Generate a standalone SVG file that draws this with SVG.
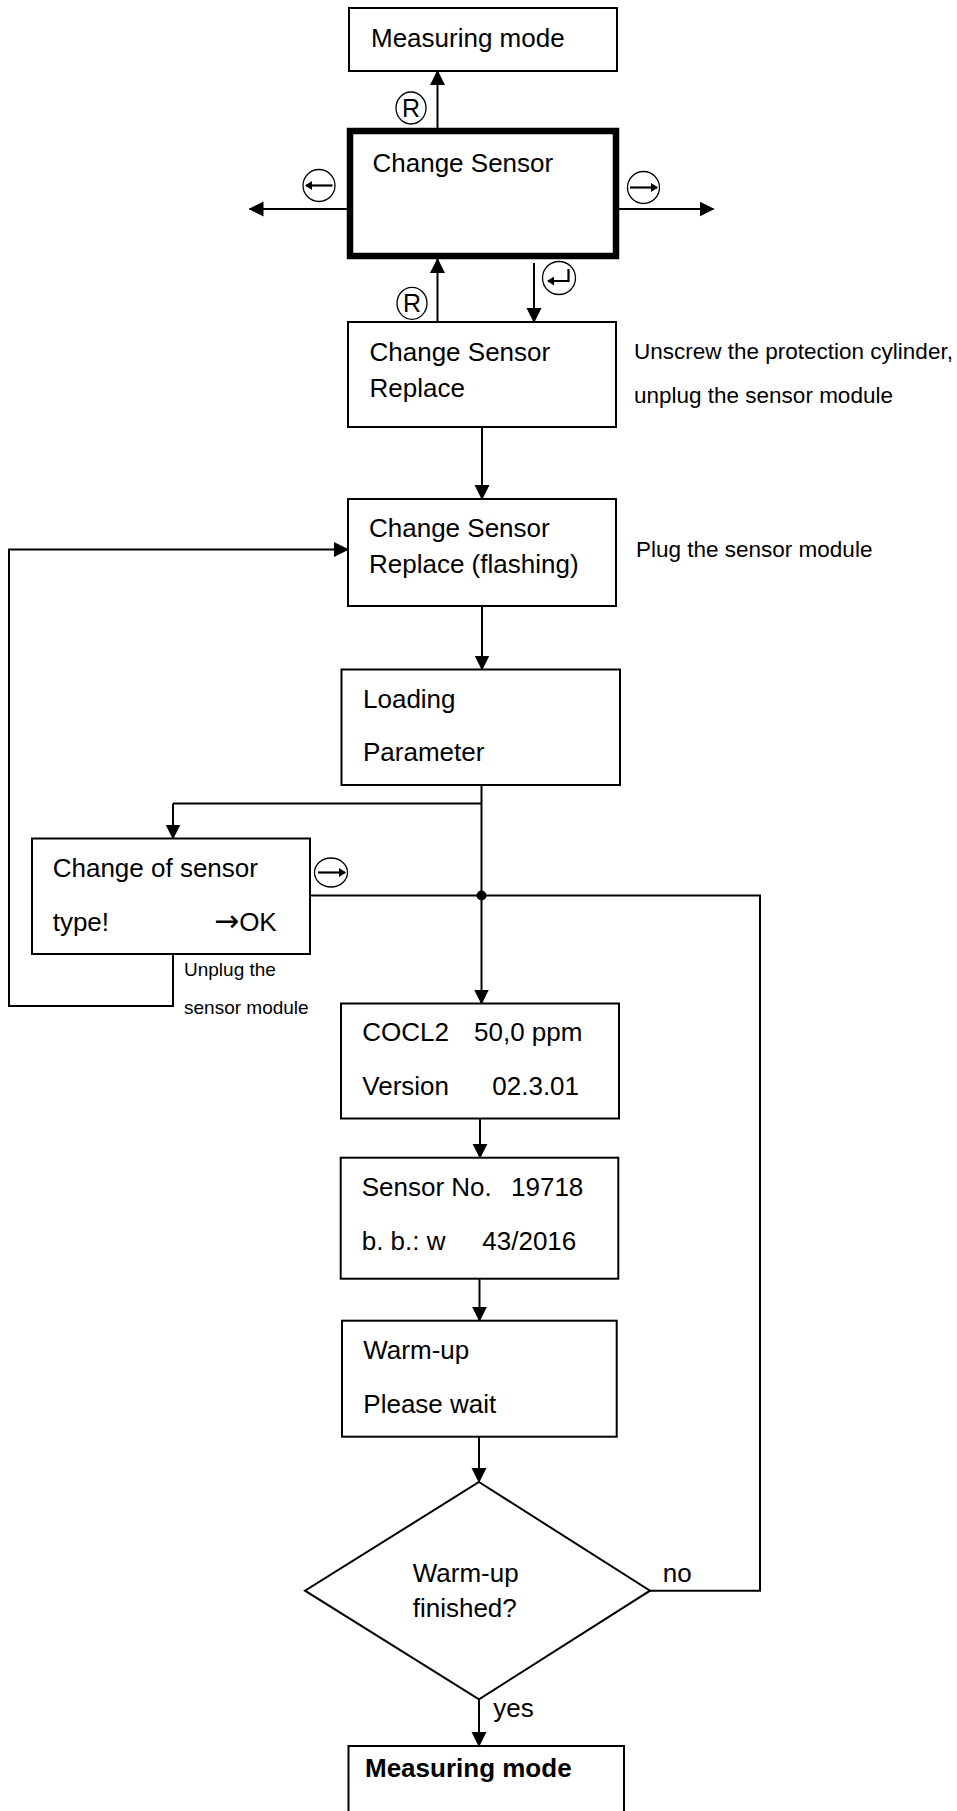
<svg xmlns="http://www.w3.org/2000/svg" width="957" height="1811" viewBox="0 0 957 1811">
<defs>
<marker id="arr" markerUnits="userSpaceOnUse" viewBox="0 0 15 16" markerWidth="15" markerHeight="16" refX="14" refY="8" orient="auto">
<path d="M0,0.5 L15,8 L0,15.5 z" fill="#000"/>
</marker>
<marker id="sarr" markerUnits="userSpaceOnUse" viewBox="0 0 7 9" markerWidth="7" markerHeight="9" refX="6" refY="4.5" orient="auto">
<path d="M0,0 L7,4.5 L0,9 z" fill="#000"/>
</marker>
<style>
.box{fill:#fff;stroke:#000;stroke-width:2}
.thick{fill:#fff;stroke:#000;stroke-width:6.5}
.ln{fill:none;stroke:#000;stroke-width:2}
.ar{fill:none;stroke:#000;stroke-width:2;marker-end:url(#arr)}
.ic{fill:#fff;stroke:#000;stroke-width:1.3}
.ia{fill:none;stroke:#000;stroke-width:2.2;marker-end:url(#sarr)}
.t{font-family:"Liberation Sans",Arial,sans-serif;font-size:26px;fill:#000}
.tb{font-family:"Liberation Sans",Arial,sans-serif;font-size:26px;font-weight:bold;fill:#000}
.s{font-family:"Liberation Sans",Arial,sans-serif;font-size:22.5px;fill:#000}
.xs{font-family:"Liberation Sans",Arial,sans-serif;font-size:19px;fill:#000}
.r{font-family:"Liberation Sans",Arial,sans-serif;font-size:25px;fill:#000;text-anchor:middle}
.arrow{font-family:"DejaVu Sans",sans-serif;font-size:30px}
</style>
</defs>
<rect width="957" height="1811" fill="#fff"/>

<g id="connectors">
<line class="ar" x1="437.5" y1="128" x2="437.5" y2="71"/>
<line class="ar" x1="347" y1="209" x2="249.5" y2="209"/>
<line class="ar" x1="619" y1="209" x2="713.5" y2="209"/>
<line class="ar" x1="437.5" y1="322" x2="437.5" y2="259"/>
<line class="ar" x1="534" y1="263" x2="534" y2="322"/>
<line class="ar" x1="482" y1="427" x2="482" y2="499"/>
<line class="ar" x1="482" y1="606" x2="482" y2="669.5"/>
<path class="ln" d="M481.5,803.5 H173"/>
<line class="ar" x1="173" y1="803.5" x2="173" y2="838.5"/>
<line class="ar" x1="481.5" y1="785" x2="481.5" y2="1003.5"/>
<path class="ln" d="M310,895.5 H760 V1590.7 H650"/>
<circle cx="481.5" cy="895.5" r="5" fill="#000"/>
<path class="ar" d="M173,954 V1006 H9 V549.5 H348"/>
<line class="ar" x1="480" y1="1118.5" x2="480" y2="1157.7"/>
<line class="ar" x1="479.5" y1="1278.7" x2="479.5" y2="1320.7"/>
<line class="ar" x1="479" y1="1436.7" x2="479" y2="1482"/>
<line class="ar" x1="479" y1="1699.3" x2="479" y2="1746"/>
</g>

<g id="icons">
<ellipse class="ic" cx="411" cy="108" rx="15" ry="16"/>
<text class="r" x="411" y="117">R</text>
<ellipse class="ic" cx="412" cy="303.3" rx="15" ry="16"/>
<text class="r" x="412" y="312.3">R</text>
<circle class="ic" cx="319" cy="185.5" r="16"/>
<line class="ia" x1="332.5" y1="185.5" x2="306" y2="185.5"/>
<circle class="ic" cx="643.5" cy="187.5" r="16"/>
<line class="ia" x1="630" y1="187.5" x2="657" y2="187.5"/>
<circle class="ic" cx="559" cy="278" r="16.5"/>
<path class="ia" d="M568.5,269 V281 H548"/>
<ellipse class="ic" cx="331" cy="872.5" rx="16.5" ry="14.5"/>
<line class="ia" x1="318" y1="872.5" x2="345" y2="872.5"/>
</g>

<g id="n-measuring-top">
<rect class="box" x="349" y="8" width="268" height="63"/>
<text class="t" x="371" y="47">Measuring mode</text>
</g>

<g id="n-change-sensor">
<rect class="thick" x="350" y="131" width="266" height="125"/>
<text class="t" x="372.5" y="172">Change Sensor</text>
</g>

<g id="n-replace">
<rect class="box" x="348" y="322" width="268" height="105"/>
<text class="t" x="369.5" y="361">Change Sensor</text>
<text class="t" x="369.5" y="396.7">Replace</text>
</g>
<g id="note-unscrew">
<text class="s" x="634" y="359.3">Unscrew the protection cylinder,</text>
<text class="s" x="634" y="402.7">unplug the sensor module</text>
</g>

<g id="n-replace-flashing">
<rect class="box" x="348" y="499" width="268" height="107"/>
<text class="t" x="369" y="537.3">Change Sensor</text>
<text class="t" x="369" y="572.7">Replace (flashing)</text>
</g>
<g id="note-plug">
<text class="s" x="636" y="557.3">Plug the sensor module</text>
</g>

<g id="n-loading">
<rect class="box" x="341.5" y="669.5" width="278.5" height="115.5"/>
<text class="t" x="363" y="708.3">Loading</text>
<text class="t" x="363" y="761">Parameter</text>
</g>

<g id="n-change-type">
<rect class="box" x="32" y="838.5" width="278" height="115.5"/>
<text class="t" x="52.7" y="876.7">Change of sensor</text>
<text class="t" x="52.7" y="930.7">type!</text>
<text class="t" x="214" y="930.7"><tspan class="arrow">→</tspan>OK</text>
</g>
<g id="note-unplug">
<text class="xs" x="184" y="976">Unplug the</text>
<text class="xs" x="184" y="1014.3">sensor module</text>
</g>

<g id="n-cocl2">
<rect class="box" x="341" y="1003.5" width="278" height="115"/>
<text class="t" x="362.3" y="1041">COCL2</text>
<text class="t" x="474" y="1041">50,0 ppm</text>
<text class="t" x="362.3" y="1095">Version</text>
<text class="t" x="492.3" y="1095">02.3.01</text>
</g>

<g id="n-sensor-no">
<rect class="box" x="340.7" y="1157.7" width="277.6" height="121"/>
<text class="t" x="361.7" y="1195.7">Sensor No.</text>
<text class="t" x="511" y="1195.7">19718</text>
<text class="t" x="361.7" y="1250">b. b.: w</text>
<text class="t" x="482.3" y="1250">43/2016</text>
</g>

<g id="n-warmup">
<rect class="box" x="342" y="1320.7" width="274.7" height="116"/>
<text class="t" x="363.3" y="1359.3">Warm-up</text>
<text class="t" x="363.3" y="1413.3">Please wait</text>
</g>

<g id="n-decision">
<polygon class="box" points="479,1482 650,1590.7 479,1699.3 305,1590.7"/>
<text class="t" x="412.7" y="1581.7">Warm-up</text>
<text class="t" x="412.7" y="1616.7">finished?</text>
</g>
<g id="labels">
<text class="t" x="662.7" y="1581.7">no</text>
<text class="t" x="493.3" y="1716.7">yes</text>
</g>

<g id="n-measuring-bottom">
<rect class="box" x="348.5" y="1746" width="275.5" height="80"/>
<text class="tb" x="365" y="1777">Measuring mode</text>
</g>
</svg>
